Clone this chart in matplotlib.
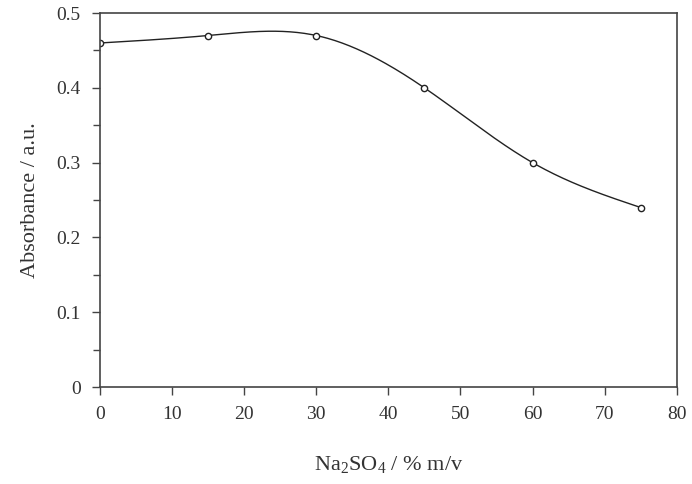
import numpy as np
import matplotlib
matplotlib.use('Agg')
import matplotlib.pyplot as plt
from matplotlib.ticker import MultipleLocator

conc=[0,15,30,45,60,75]
absorb=[0.46,0.47,0.47,0.40,0.30,0.24]

def natural_spline(x,y,n=300):
    x=np.asarray(x,float); y=np.asarray(y,float)
    k=len(x); h=np.diff(x)
    A=np.zeros((k,k)); b=np.zeros(k)
    A[0,0]=1; A[-1,-1]=1
    for i in range(1,k-1):
        A[i,i-1]=h[i-1]; A[i,i]=2*(h[i-1]+h[i]); A[i,i+1]=h[i]
        b[i]=3*((y[i+1]-y[i])/h[i]-(y[i]-y[i-1])/h[i-1])
    c=np.linalg.solve(A,b)
    xs=np.linspace(x[0],x[-1],n); ys=np.empty_like(xs)
    for j,xv in enumerate(xs):
        i=min(np.searchsorted(x,xv,side='right')-1,k-2)
        d=xv-x[i]
        bb=(y[i+1]-y[i])/h[i]-h[i]*(2*c[i]+c[i+1])/3
        dd=(c[i+1]-c[i])/(3*h[i])
        ys[j]=y[i]+bb*d+c[i]*d**2+dd*d**3
    return xs,ys

plt.rcParams['font.family']='Liberation Serif'
plt.rcParams['mathtext.fontset']='custom'
plt.rcParams['mathtext.rm']='Liberation Serif'
plt.rcParams['mathtext.it']='Liberation Serif:italic'
fig=plt.figure(figsize=(6.92,4.84),dpi=100)
ax=fig.add_axes([0.1445,0.2004,0.8335,0.7726])
xs,ys=natural_spline(conc,absorb)
ax.plot(xs,ys,color='#222222',lw=1.0)
ax.plot(conc,absorb,linestyle='none',marker='o',ms=4.5,mfc='white',mec='#222222',mew=1.0)
ax.set_xlim(0,80)
ax.set_ylim(0,0.5)
ax.xaxis.set_major_locator(MultipleLocator(10))
ax.yaxis.set_minor_locator(MultipleLocator(0.05))
ax.set_yticks([0,0.1,0.2,0.3,0.4,0.5])
ax.set_yticklabels(['0','0.1','0.2','0.3','0.4','0.5'])
for s in ax.spines.values():
    s.set_color('#444444'); s.set_linewidth(1.2)
ax.tick_params(which='both',direction='out',color='#444444',width=1.0,labelsize=14,colors='#333333')
ax.tick_params(which='major',length=6,pad=8)
ax.tick_params(which='minor',length=5)
ax.set_xlabel(r'Na$_\mathrm{2}$SO$_\mathrm{4}$ / % m/v',fontsize=16,color='#333333',labelpad=22)
ax.set_ylabel('Absorbance / a.u.',fontsize=16,color='#333333',labelpad=12)
fig.savefig('out.png',dpi=100)
